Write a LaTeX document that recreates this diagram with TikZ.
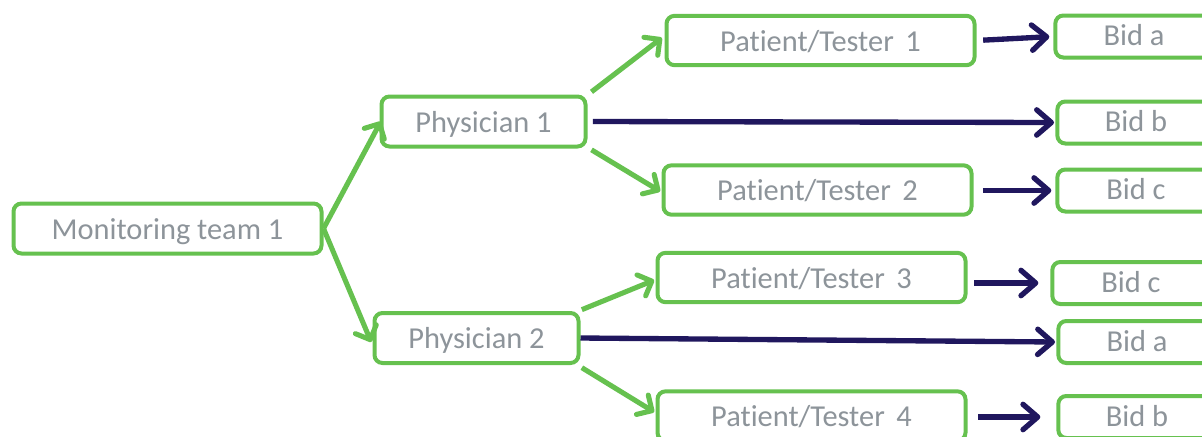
\documentclass[tikz,border=0pt]{standalone}
\usepackage{fontspec}
\setmainfont{Carlito}[Ligatures={NoCommon}]
\usetikzlibrary{arrows.meta}
\definecolor{boxgreen}{HTML}{66C14F}
\definecolor{navy}{HTML}{20175E}
\definecolor{txtgray}{HTML}{8D949A}
\tikzset{
  box/.style={draw=boxgreen, line width=3pt, rounded corners=6pt, fill=white,
    text=txtgray, font=\fontsize{22.8}{27}\selectfont, inner sep=0pt, anchor=center,
    text height=17pt, text depth=1pt},
  mtbox/.style={box, minimum width=231pt, minimum height=37.5pt},
  phbox/.style={box, minimum width=153pt, minimum height=37.5pt},
  ptbox/.style={box, minimum width=231pt, minimum height=37pt},
  bidbox/.style={box, minimum width=118pt, minimum height=31.5pt, text height=15pt},
  garrow/.style={draw=boxgreen, line width=3.8pt, -{Straight Barb[length=8.5pt,width=17pt,round]}},
  narrow/.style={draw=navy, line width=4pt, -{Straight Barb[length=11pt,width=19pt,round]}},
}
\newcommand{\pt}[1]{Patient/Tester\hspace{0.38em}#1}
\begin{document}
\begin{tikzpicture}[x=0.75pt,y=-0.75pt]
\useasboundingbox (0,0) rectangle (1202,436);
\clip (0,0) rectangle (1202,436);
\node[mtbox] (mt) at (167.5,228.5) {Monitoring team 1};
\node[phbox] (ph1) at (483.5,121.5) {Physician 1};
\node[phbox] (ph2) at (476.5,338) {Physician 2};
\node[ptbox] (pt1) at (820.5,40.5) {\pt{1}};
\node[ptbox] (pt2) at (817.5,190) {\pt{2}};
\node[ptbox] (pt3) at (811.5,277.5) {\pt{3}};
\node[ptbox] (pt4) at (811.5,416) {\pt{4}};
\node[bidbox] (bida1) at (1134,36.5) {Bid a};
\node[bidbox] (bidb1) at (1136,122.5) {Bid b};
\node[bidbox] (bidc1) at (1136,190.5) {Bid c};
\node[bidbox] (bidc2) at (1131,283) {Bid c};
\node[bidbox] (bida2) at (1137,342) {Bid a};
\node[bidbox] (bidb2) at (1137,417) {Bid b};

\draw[garrow] (mt.east) -- ([xshift=1pt]ph1.west);
\draw[garrow] (mt.east) -- ([xshift=-1pt,yshift=-3pt]ph2.west);
\draw[garrow] ([xshift=3pt,yshift=2pt]ph1.north east) -- ([xshift=-2pt,yshift=2pt]pt1.west);
\draw[garrow] ([xshift=3pt,yshift=-1pt]ph1.south east) -- ([xshift=-1pt,yshift=-1pt]pt2.west);
\draw[garrow] ([xshift=1pt,yshift=1pt]ph2.north east) -- ([xshift=-1pt,yshift=-2pt]pt3.west);
\draw[garrow] ([xshift=1pt,yshift=-2pt]ph2.south east) -- ([xshift=-1pt,yshift=3pt]pt4.west);
\draw[narrow] ([xshift=4pt]ph1.east) -- ([xshift=-1pt]bidb1.west);
\draw[narrow] (ph2.east) -- ([xshift=-1pt]bida2.west);
\draw[narrow, shorten <=5pt, shorten >=3pt] (pt1.east) -- (bida1.west);
\draw[narrow, shorten <=7pt, shorten >=3pt] (pt2.east |- bidc1.west) -- (bidc1.west);
\draw[narrow, shorten <=5pt, shorten >=9pt] (pt3.east |- bidc2.west) -- (bidc2.west);
\draw[narrow, shorten <=8pt, shorten >=12pt] (pt4.east |- bidb2.west) -- (bidb2.west);
\end{tikzpicture}
\end{document}
